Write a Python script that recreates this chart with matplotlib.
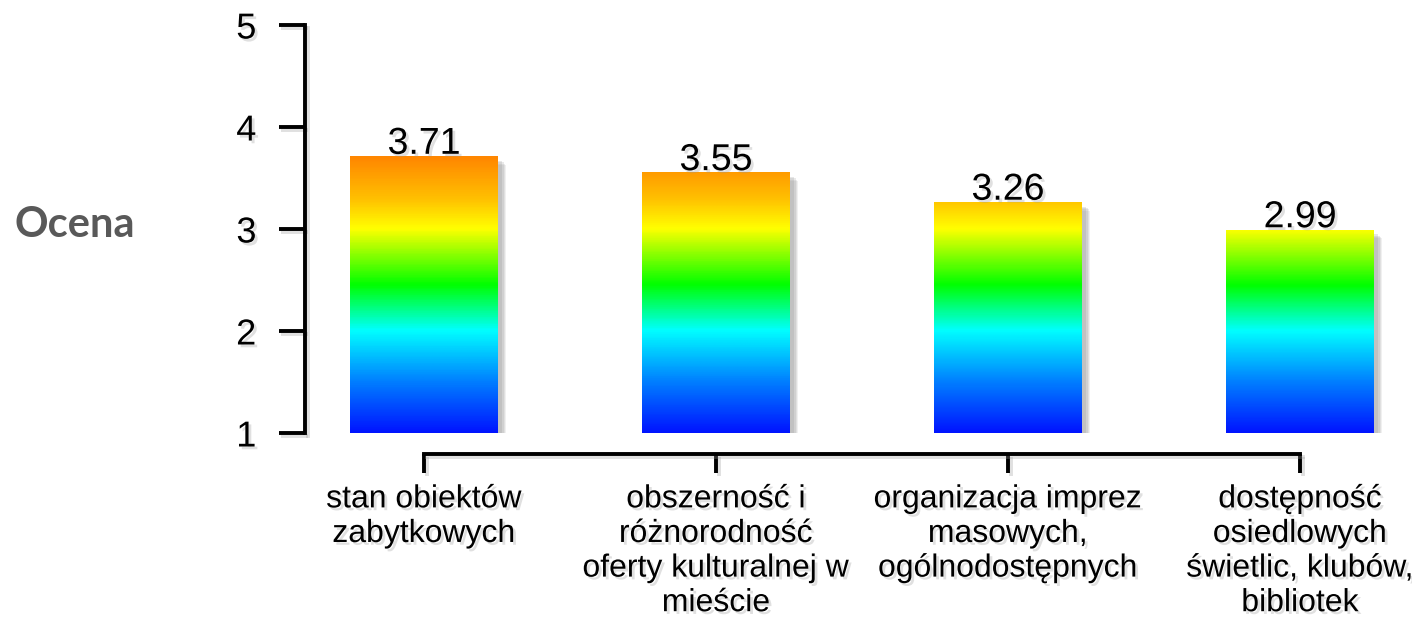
import numpy as np
import matplotlib
matplotlib.use("Agg")
from matplotlib import pyplot as plt
from matplotlib import patheffects as pe
from matplotlib.colors import LinearSegmentedColormap
from matplotlib.patches import Rectangle

# data
categories = ["stan obiektów\nzabytkowych",
              "obszerność i\nróżnorodność\noferty kulturalnej w\nmieście",
              "organizacja imprez\nmasowych,\nogólnodostępnych",
              "dostępność\nosiedlowych\nświetlic, klubów,\nbibliotek"]
values = [3.71, 3.55, 3.26, 2.99]
value_labels = ["3.71", "3.55", "3.26", "2.99"]
yticks = [1, 2, 3, 4, 5]

# colour ramp along the value axis (1..5)
ramp = [(1.0, (0.0, 0.08, 1.0)),
        (1.5, (0.0, 0.5, 1.0)),
        (2.0, (0.0, 1.0, 1.0)),
        (2.45, (0.0, 1.0, 0.0)),
        (3.0, (1.0, 1.0, 0.0)),
        (3.3, (1.0, 0.75, 0.0)),
        (3.7, (1.0, 0.53, 0.0)),
        (5.0, (1.0, 0.1, 0.0))]
cmap = LinearSegmentedColormap.from_list(
    "ramp", [((v - 1) / 4, c) for v, c in ramp])

plt.rcParams['font.family'] = ['Liberation Sans', 'DejaVu Sans']

W, H = 1412, 621
fig = plt.figure(figsize=(W / 100, H / 100), dpi=100)
# y=1 at pixel 433, y=5 at pixel 25; y spine at pixel 305
ax = fig.add_axes([305 / W, (H - 433) / H, (W - 305) / W, 408 / H])
step = 292.0
ax.patch.set_alpha(0)

txt_shadow = [pe.withSimplePatchShadow(offset=(2, -2), shadow_rgbFace='#999999', alpha=0.3)]
line_shadow = [pe.SimpleLineShadow(offset=(2, -2), shadow_color='#999999', alpha=0.3), pe.Normal()]
# soft-ish bar shadow built from a few stacked layers
bar_shadow = [pe.SimplePatchShadow(offset=(o, -o), shadow_rgbFace='#888888', alpha=a)
              for o, a in [(6, 0.12), (5, 0.15), (4, 0.18), (3, 0.2)]] + [pe.Normal()]

bw = 148 / step
x = np.arange(len(values))
for xi, v, lab in zip(x, values, value_labels):
    sh = Rectangle((xi - bw / 2, 1), bw, v - 1, facecolor='white', edgecolor='none',
                   zorder=1, path_effects=bar_shadow)
    ax.add_patch(sh)
    grad = np.linspace(v, 1, 300).reshape(-1, 1)
    ax.imshow(grad, cmap=cmap, vmin=1, vmax=5, aspect='auto',
              extent=(xi - bw / 2, xi + bw / 2, 1, v), zorder=2, interpolation='bilinear')
    ax.annotate(lab, (xi, v), xytext=(0, 2), textcoords='offset points',
                ha='center', va='baseline', fontsize=27, color='black',
                path_effects=txt_shadow, zorder=3, annotation_clip=False)

ax.set_xlim(-(424 - 305) / step, 3 + (W - 1300) / step)
ax.set_ylim(1, 5)

for s in ['top', 'right']:
    ax.spines[s].set_visible(False)
ax.spines['left'].set_bounds(1, 5)
ax.spines['bottom'].set_bounds(0, 3)
ax.spines['bottom'].set_position(('outward', 15))
for s in ['left', 'bottom']:
    ax.spines[s].set_linewidth(2.8)
    ax.spines[s].set_path_effects(line_shadow)

ax.set_yticks(yticks)
ax.set_yticklabels([str(t) for t in yticks], fontsize=26)
ax.set_xticks(x)
ax.set_xticklabels(categories, fontsize=23, linespacing=1.2)
ax.tick_params(axis='y', length=19, width=2.8, pad=16)
ax.tick_params(axis='x', length=14, width=2.8, pad=8)
for t in ax.get_xticklabels() + ax.get_yticklabels():
    t.set_path_effects(txt_shadow)
for tk in ax.xaxis.get_major_ticks() + ax.yaxis.get_major_ticks():
    tk.tick1line.set_path_effects(line_shadow)

fig.text(75 / W, 1 - 225 / H, "Ocena", ha='center', va='center', fontsize=30,
         fontweight='bold', color='#595959', family=['Lato', 'DejaVu Sans'])

fig.savefig('out.png', dpi=100)
